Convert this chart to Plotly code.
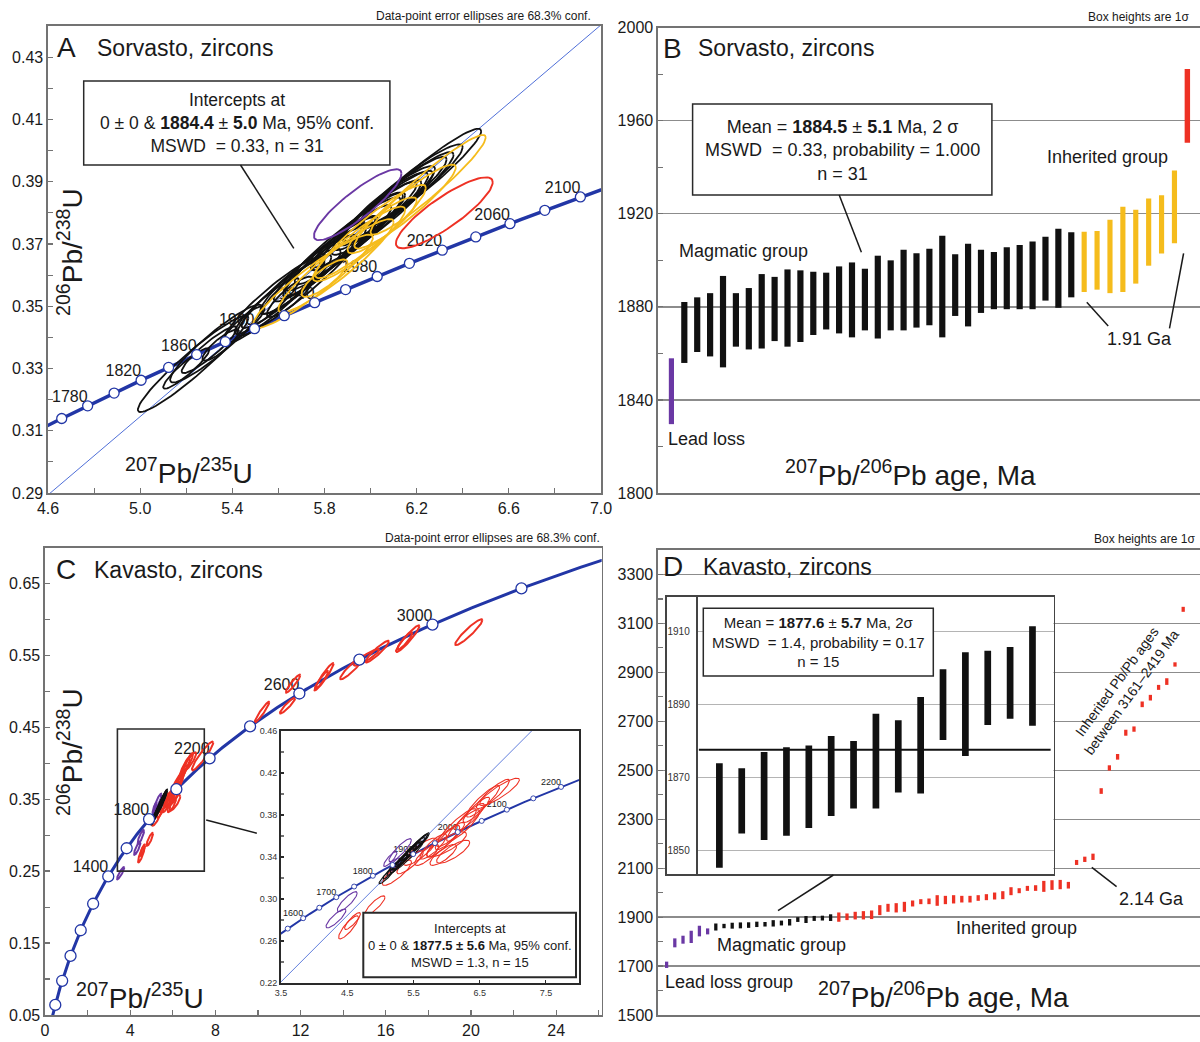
import numpy as np
import plotly.graph_objects as go

W, H = 1200, 1042
FONT = "Arial, Liberation Sans, sans-serif"
INK = "#1a1a1a"
FRAME = "#737373"
BLUE = "#2236A6"
THIN_BLUE = "#4F6FD8"
BLACK = "#111111"
YELLOW = "#F5BC1C"
RED = "#EE3124"
PURPLE = "#6A38A4"

# decay constants (1/Ma)
LAMBDA_238 = 1.55125e-4
LAMBDA_235 = 9.8485e-4

# ---------------- Panel A (Sorvasto concordia) ----------------
A_marker_ages = list(range(1760, 2121, 20))
A_label_ages = [1780, 1820, 1860, 1900, 1940, 1980, 2020, 2060, 2100]
A_intercept_age = 1884.4
# (x centre, y centre, sigma x, sigma y, rho)
A_black = [
    (5.23, 0.3315, 0.24, 0.0155, 0.95), (5.20, 0.3300, 0.10, 0.0065, 0.92),
    (5.30, 0.3360, 0.12, 0.0075, 0.92), (5.35, 0.3375, 0.08, 0.0050, 0.86),
    (5.45, 0.3440, 0.09, 0.0060, 0.88), (5.55, 0.3500, 0.14, 0.0090, 0.92),
    (5.62, 0.3540, 0.18, 0.0110, 0.93), (5.68, 0.3570, 0.15, 0.0095, 0.92),
    (5.72, 0.3600, 0.20, 0.0125, 0.93), (5.78, 0.3630, 0.16, 0.0100, 0.92),
    (5.80, 0.3650, 0.22, 0.0135, 0.94), (5.85, 0.3680, 0.18, 0.0110, 0.92),
    (5.88, 0.3700, 0.25, 0.0150, 0.94), (5.92, 0.3720, 0.17, 0.0105, 0.92),
    (5.95, 0.3745, 0.20, 0.0120, 0.93), (5.98, 0.3760, 0.24, 0.0145, 0.94),
    (6.02, 0.3790, 0.18, 0.0110, 0.92), (6.05, 0.3800, 0.22, 0.0135, 0.93),
    (6.08, 0.3830, 0.20, 0.0120, 0.92), (6.12, 0.3850, 0.24, 0.0145, 0.94),
    (6.15, 0.3870, 0.18, 0.0110, 0.92), (6.18, 0.3890, 0.22, 0.0130, 0.93),
    (6.22, 0.3910, 0.26, 0.0160, 0.95), (5.65, 0.3530, 0.10, 0.0065, 0.86),
    (5.75, 0.3610, 0.12, 0.0075, 0.86), (5.90, 0.3700, 0.12, 0.0070, 0.86),
    (6.00, 0.3780, 0.14, 0.0085, 0.88), (5.58, 0.3520, 0.22, 0.0140, 0.93),
    (6.10, 0.3840, 0.15, 0.0090, 0.88), (5.70, 0.3580, 0.28, 0.0175, 0.95),
    (5.33, 0.3380, 0.20, 0.0125, 0.93),
]
A_yellow = [
    (6.25, 0.3890, 0.25, 0.0160, 0.95), (6.15, 0.3820, 0.22, 0.0135, 0.93),
    (5.95, 0.3700, 0.20, 0.0120, 0.91), (5.85, 0.3630, 0.25, 0.0150, 0.93),
    (5.75, 0.3580, 0.26, 0.0150, 0.93), (6.05, 0.3760, 0.15, 0.0090, 0.88),
    (5.80, 0.3590, 0.10, 0.0060, 0.83), (6.00, 0.3740, 0.24, 0.0150, 0.93),
]
A_red = [(6.32, 0.3800, 0.21, 0.0114, 0.86)]
A_purple = [(5.944, 0.3826, 0.19, 0.0114, 0.88)]

# ---------------- Panel B (Sorvasto ages) ----------------
B_purple_x = [1]
B_purple_lo = [1829.6]
B_purple_hi = [1857.9]
B_black_x = list(range(2, 33))
B_black_lo = [1855.9, 1860.6, 1858.7, 1854.0, 1862.9, 1861.7, 1862.1, 1865.3, 1862.9, 1864.9,
              1867.9, 1870.3, 1868.6, 1866.9, 1869.9, 1866.4, 1869.9, 1869.9, 1871.1, 1872.1,
              1866.9, 1876.1, 1871.6, 1877.4, 1879.0, 1879.0, 1879.0, 1879.0, 1882.7, 1879.6, 1884.1]
B_black_hi = [1882.1, 1884.1, 1885.9, 1893.3, 1885.9, 1888.1, 1894.1, 1892.9, 1896.1, 1895.7,
              1895.1, 1894.7, 1897.4, 1899.1, 1896.4, 1902.0, 1900.0, 1904.6, 1903.0, 1905.0,
              1910.6, 1902.6, 1907.1, 1904.6, 1903.6, 1905.6, 1906.6, 1908.1, 1910.1, 1913.6, 1912.1]
B_yellow_x = list(range(33, 41))
B_yellow_lo = [1886.4, 1887.4, 1885.9, 1886.4, 1890.0, 1897.7, 1902.9, 1907.4]
B_yellow_hi = [1912.3, 1912.6, 1917.4, 1923.0, 1921.7, 1926.6, 1928.0, 1938.6]
B_red_x = [41]
B_red_lo = [1950.6]
B_red_hi = [1982.3]

# ---------------- Panel C (Kavasto concordia) ----------------
C_marker_ages = list(range(400, 3201, 200))
C_label_ages = [1400, 1800, 2200, 2600, 3000]
Cin_marker_ages = list(range(1550, 2201, 50))
Cin_label_ages = [1600, 1700, 1800, 1900, 2000, 2100, 2200]
C_intercept_age = 1877.5
C_zoom_box = [3.4, 7.48, 0.25, 0.4475]
C_black = [
    (5.10, 0.322, 0.12, 0.0075, 0.93), (5.18, 0.328, 0.14, 0.0090, 0.94),
    (5.25, 0.332, 0.15, 0.0095, 0.94), (5.30, 0.335, 0.12, 0.0075, 0.92),
    (5.35, 0.338, 0.16, 0.0100, 0.95), (5.40, 0.341, 0.14, 0.0090, 0.94),
    (5.42, 0.343, 0.18, 0.0110, 0.95), (5.47, 0.346, 0.15, 0.0095, 0.94),
    (5.50, 0.348, 0.17, 0.0105, 0.95), (5.55, 0.351, 0.15, 0.0095, 0.94),
    (5.58, 0.353, 0.14, 0.0090, 0.93), (5.40, 0.340, 0.25, 0.0150, 0.96),
    (5.62, 0.355, 0.12, 0.0080, 0.92), (5.32, 0.337, 0.10, 0.0065, 0.90),
    (5.45, 0.345, 0.10, 0.0065, 0.90),
]
C_purple = [
    (4.33, 0.2815, 0.15, 0.0090, 0.85), (4.50, 0.2975, 0.15, 0.0095, 0.85),
    (5.30, 0.3465, 0.17, 0.0110, 0.88), (5.15, 0.3380, 0.10, 0.0070, 0.85),
    (5.22, 0.3330, 0.08, 0.0060, 0.80),
]
C_purple_outer = [(3.55, 0.247, 0.17, 0.0085, 0.90)]
C_red = [
    (4.52, 0.273, 0.15, 0.011, 0.85), (4.58, 0.279, 0.12, 0.008, 0.85),
    (4.92, 0.294, 0.15, 0.009, 0.85), (5.25, 0.325, 0.22, 0.012, 0.85),
    (5.45, 0.335, 0.20, 0.011, 0.85), (5.60, 0.345, 0.25, 0.013, 0.85),
    (5.80, 0.350, 0.20, 0.012, 0.85), (5.95, 0.355, 0.25, 0.015, 0.88),
    (6.05, 0.360, 0.22, 0.013, 0.88), (6.15, 0.368, 0.30, 0.018, 0.90),
    (6.25, 0.370, 0.25, 0.015, 0.88), (6.35, 0.378, 0.22, 0.013, 0.88),
    (6.55, 0.393, 0.25, 0.015, 0.90), (6.70, 0.400, 0.25, 0.014, 0.90),
    (6.80, 0.402, 0.30, 0.013, 0.88), (6.45, 0.385, 0.20, 0.012, 0.88),
    (5.70, 0.342, 0.18, 0.010, 0.80), (6.00, 0.352, 0.30, 0.012, 0.80),
    (6.10, 0.345, 0.25, 0.011, 0.80), (5.95, 0.342, 0.20, 0.010, 0.80),
]
C_red_outer = [
    (7.40, 0.410, 0.50, 0.020, 0.93), (10.19, 0.471, 0.34, 0.0143, 0.95),
    (11.65, 0.5105, 0.34, 0.0125, 0.93), (11.39, 0.480, 0.36, 0.011, 0.93),
    (13.10, 0.520, 0.45, 0.019, 0.95), (13.00, 0.516, 0.30, 0.012, 0.93),
    (14.43, 0.533, 0.57, 0.0165, 0.93), (15.60, 0.555, 0.55, 0.015, 0.93),
    (15.10, 0.547, 0.60, 0.0115, 0.91), (17.03, 0.573, 0.55, 0.0185, 0.94),
    (16.90, 0.570, 0.35, 0.012, 0.91), (19.90, 0.582, 0.64, 0.018, 0.93),
]

# ---------------- Panel D (Kavasto ages) ----------------
D_purple_x = list(range(1, 7))
D_purple_lo = [1692.3, 1776.5, 1791.4, 1794.1, 1821.3, 1829.4]
D_purple_hi = [1718.1, 1813.1, 1824.0, 1844.3, 1864.7, 1853.8]
D_black_x = list(range(7, 22))
D_black_lo = [1845.2, 1854.6, 1852.8, 1854.0, 1856.1, 1859.4, 1861.5, 1861.5, 1865.9, 1865.6,
              1880.3, 1875.9, 1884.4, 1886.1, 1884.2]
D_black_hi = [1873.9, 1872.5, 1877.0, 1878.3, 1878.8, 1881.4, 1880.0, 1887.5, 1885.7, 1892.1,
              1899.7, 1904.4, 1904.8, 1905.8, 1911.5]
D_red_x = list(range(22, 65))
D_red_lo = [1881.0, 1887.8, 1890.5, 1890.5, 1891.9, 1908.1, 1921.7, 1919.0, 1921.7, 1943.4,
            1952.9, 1952.9, 1946.2, 1952.9, 1955.7, 1959.7, 1959.7, 1966.5, 1969.2, 1971.9,
            1973.3, 1989.6, 1997.7, 2007.2, 2007.2, 2003.2, 2011.3, 2014.0, 2016.7, 2113.1,
            2125.3, 2133.5, 2403.6, 2498.6, 2543.4, 2641.2, 2657.4, 2757.9, 2785.0, 2828.5,
            2848.8, 2923.5, 3147.4]
D_red_hi = [1919.0, 1914.9, 1921.7, 1924.4, 1927.1, 1948.9, 1954.3, 1957.0, 1962.4, 1967.9,
            1973.3, 1976.0, 1989.6, 1986.9, 1989.6, 1986.9, 1986.9, 1989.6, 1993.7, 2000.4,
            2005.9, 2022.2, 2018.1, 2027.6, 2030.3, 2048.0, 2050.7, 2052.0, 2043.9, 2133.5,
            2147.0, 2159.3, 2426.7, 2520.3, 2566.5, 2665.6, 2679.1, 2781.0, 2808.1, 2848.8,
            2876.0, 2941.1, 3167.8]
D_inset_x = list(range(1, 16))
D_mean = 1877.6


def concordia(t):
    t = np.asarray(t, dtype=float)
    return np.exp(LAMBDA_235 * t) - 1, np.exp(LAMBDA_238 * t) - 1


def ellipses(items, n=80):
    th = np.linspace(0, 2 * np.pi, n)
    xs, ys = [], []
    for cx, cy, sx, sy, r in items:
        xs += list(cx + sx * np.cos(th)) + [None]
        ys += list(cy + sy * (r * np.cos(th) + np.sqrt(1 - r * r) * np.sin(th))) + [None]
    return xs, ys


fig = go.Figure()


def add(trace, xa, ya):
    trace.update(xaxis=xa, yaxis=ya, showlegend=False, hoverinfo="skip")
    fig.add_trace(trace)


def concordia_traces(xa, ya, t_lo, t_hi, label_ages, lw, fsize):
    cx, cy = concordia(np.linspace(t_lo, t_hi, 400))
    add(go.Scatter(x=cx, y=cy, mode="lines", line=dict(color=BLUE, width=lw)), xa, ya)
    lx, ly = concordia(label_ages)
    add(go.Scatter(x=lx, y=ly, mode="text", text=[str(a) for a in label_ages],
                   textposition="top left", textfont=dict(size=fsize, color=INK, family=FONT)), xa, ya)


def marker_trace(xa, ya, marker_ages, msize, mlw):
    mx, my = concordia(marker_ages)
    add(go.Scatter(x=mx, y=my, mode="markers",
                   marker=dict(size=msize, color="white", line=dict(color=BLUE, width=mlw))), xa, ya)


def discordia(xa, ya, age, x0, x1, width=1):
    ix, iy = concordia([age])
    slope = iy[0] / ix[0]
    add(go.Scatter(x=[x0, x1], y=[slope * x0, slope * x1], mode="lines",
                   line=dict(color=THIN_BLUE, width=width)), xa, ya)


def ell_trace(items, color, xa, ya, width):
    ex, ey = ellipses(items)
    add(go.Scatter(x=ex, y=ey, mode="lines", line=dict(color=color, width=width)), xa, ya)


def bars(x, lo, hi, color, width, xa, ya):
    add(go.Bar(x=x, y=[h - l for l, h in zip(lo, hi)], base=lo, width=width,
               marker=dict(color=color, line=dict(width=0))), xa, ya)


# ---- A
discordia("x", "y", A_intercept_age, 4.6, 7.0)
concordia_traces("x", "y", 1700, 2150, A_label_ages, 3.5, 16)
ell_trace(A_black, BLACK, "x", "y", 1.8)
ell_trace(A_yellow, YELLOW, "x", "y", 1.8)
ell_trace(A_red, RED, "x", "y", 1.9)
ell_trace(A_purple, PURPLE, "x", "y", 1.9)
marker_trace("x", "y", A_marker_ages, 10, 1.3)

# ---- B
bars(B_purple_x, B_purple_lo, B_purple_hi, PURPLE, 0.4, "x2", "y2")
bars(B_black_x, B_black_lo, B_black_hi, BLACK, 0.48, "x2", "y2")
bars(B_yellow_x, B_yellow_lo, B_yellow_hi, YELLOW, 0.4, "x2", "y2")
bars(B_red_x, B_red_lo, B_red_hi, RED, 0.42, "x2", "y2")

# ---- C main
concordia_traces("x3", "y3", 0, 3400, C_label_ages, 3, 16)
ell_trace(C_purple + C_purple_outer, PURPLE, "x3", "y3", 2)
ell_trace(C_red + C_red_outer, RED, "x3", "y3", 2)
ell_trace(C_black, BLACK, "x3", "y3", 2)
marker_trace("x3", "y3", C_marker_ages, 11, 1.3)

# ---- C inset
discordia("x4", "y4", C_intercept_age, 3.5, 8.0, 0.9)
concordia_traces("x4", "y4", 1400, 2300, Cin_label_ages, 2, 9)
ell_trace(C_red, RED, "x4", "y4", 1.1)
ell_trace(C_purple, PURPLE, "x4", "y4", 1.1)
ell_trace(C_black, BLACK, "x4", "y4", 1.1)
marker_trace("x4", "y4", Cin_marker_ages, 5, 0.9)

# ---- D main
bars(D_purple_x, D_purple_lo, D_purple_hi, PURPLE, 0.4, "x5", "y5")
bars(D_black_x, D_black_lo, D_black_hi, BLACK, 0.4, "x5", "y5")
bars(D_red_x, D_red_lo, D_red_hi, RED, 0.4, "x5", "y5")

# ---- D inset
bars(D_inset_x, D_black_lo, D_black_hi, BLACK, 0.3, "x6", "y6")
add(go.Scatter(x=[None], y=[None], mode="lines"), "x7", "y7")


def PX(x):
    return x / W


def PY(y):
    return 1 - y / H


def frame(dom, rng, **kw):
    d = dict(domain=dom, range=rng, showline=True, linecolor=FRAME, linewidth=1.6, mirror=True,
             showgrid=False, zeroline=False, ticks="inside", ticklen=5, tickwidth=1.2,
             tickcolor=FRAME, tickfont=dict(size=16, color=INK, family=FONT), fixedrange=True,
             automargin=False)
    d.update(kw)
    return d


def minor(dt, t0, ln=5):
    return dict(dtick=dt, tick0=t0, ticks="inside", ticklen=ln, tickcolor=FRAME, tickwidth=1.1)


noticks = dict(showticklabels=False, ticks="")

layout = dict(
    template="none",
    width=W, height=H, autosize=False, margin=dict(l=0, r=0, t=0, b=0, pad=0),
    paper_bgcolor="white", plot_bgcolor="white", barmode="overlay", showlegend=False,
    font=dict(family=FONT, color=INK),
    # A
    xaxis=frame([PX(48), PX(601)], [4.6, 7.0], anchor="y", tick0=4.6, dtick=0.4,
                tickformat=".1f", minor=minor(0.2, 4.6)),
    yaxis=frame([PY(493), PY(26)], [0.29, 0.44], anchor="x", tick0=0.29, dtick=0.02,
                tickformat=".2f", minor=minor(0.01, 0.29)),
    # B
    xaxis2=frame([PX(658), 1.0], [-0.04, 41.98], anchor="y2", **noticks),
    yaxis2=frame([PY(493), PY(27.7)], [1800, 2000], anchor="x2", tick0=1800, dtick=40,
                 minor=minor(20, 1800), showgrid=True, gridcolor="#8c8c8c", gridwidth=1.3),
    # C main
    xaxis3=frame([PX(45), PX(601.7)], [0, 26.14], anchor="y3", tick0=0, dtick=4,
                 minor=minor(2, 0)),
    yaxis3=frame([PY(1015), PY(548)], [0.05, 0.699], anchor="x3", tick0=0.05, dtick=0.1,
                 tickformat=".2f", minor=minor(0.05, 0.05)),
    # C inset
    xaxis4=frame([PX(281), PX(579)], [3.5, 8.0], anchor="y4", tick0=3.5, dtick=1,
                 tickformat=".1f", linecolor="#2a2a2a", linewidth=1.8, ticklen=3,
                 tickcolor="#2a2a2a", tickfont=dict(size=9, color="#333", family=FONT)),
    yaxis4=frame([PY(983), PY(731)], [0.22, 0.46], anchor="x4", tick0=0.22, dtick=0.04,
                 tickformat=".2f", linecolor="#2a2a2a", linewidth=1.8, ticklen=3,
                 tickcolor="#2a2a2a", tickfont=dict(size=9, color="#333", family=FONT),
                 minor=minor(0.02, 0.22, 3)),
    # D main
    xaxis5=frame([PX(658), 1.0], [-0.05, 66.05], anchor="y5", **noticks),
    yaxis5=frame([PY(1015), PY(550)], [1500, 3400], anchor="x5", tick0=1500, dtick=200,
                 minor=minor(100, 1500), showgrid=True, gridcolor="#8c8c8c", gridwidth=1.3),
    # D inset plot
    xaxis6=frame([PX(696), PX(1053.5)], [-0.045, 15.94], anchor="y6", linecolor="#444",
                 linewidth=1.8, **noticks),
    yaxis6=frame([PY(874.3), PY(596.5)], [1843.4, 1919.7], anchor="x6", linecolor="#444",
                 linewidth=1.8, tick0=1850, dtick=20, showgrid=True, gridcolor="#b4b4b4",
                 gridwidth=1.1, **noticks),
    # D inset label column
    xaxis7=frame([PX(666.5), PX(696)], [0, 1], anchor="y7", linecolor="#444", linewidth=1.8,
                 **noticks),
    yaxis7=frame([PY(874.3), PY(596.5)], [1843.4, 1919.7], anchor="x7", linecolor="#444",
                 linewidth=1.8, tick0=1850, dtick=20, ticks="", ticklabelposition="inside",
                 tickfont=dict(size=10, color="#333", family=FONT)),
)
fig.update_layout(**layout)

annotations = []
shapes = []


def note(x, y, text, size=18, xanchor="center", yanchor="middle", angle=0, color=INK):
    annotations.append(dict(x=PX(x), y=PY(y), xref="paper", yref="paper", text=text,
                            showarrow=False, font=dict(size=size, color=color, family=FONT),
                            xanchor=xanchor, yanchor=yanchor, textangle=angle, align="center"))


def seg(x0, y0, x1, y1, w=1.5, c="#1a1a1a"):
    shapes.append(dict(type="line", xref="paper", yref="paper", x0=PX(x0), y0=PY(y0),
                       x1=PX(x1), y1=PY(y1), line=dict(color=c, width=w), layer="above"))


def box(x0, y0, x1, y1, w=1.5):
    shapes.append(dict(type="rect", xref="paper", yref="paper", x0=PX(x0), y0=PY(y1),
                       x1=PX(x1), y1=PY(y0), line=dict(color="#2a2a2a", width=w),
                       fillcolor="white", layer="above"))


XT_UPB = "<sup>207</sup>Pb/<sup>235</sup>U"
YT_UPB = "<sup>206</sup>Pb/<sup>238</sup>U"
XT_AGE = "<sup>207</sup>Pb/<sup>206</sup>Pb age, Ma"

# A
note(66, 48, "A", 28)
note(94.6, 48, "Sorvasto, zircons", 23, xanchor="left")
note(593.4, 15.7, "Data-point error ellipses are 68.3% conf.", 12, xanchor="right")
box(83.7, 81, 389.9, 165)
note(236.8, 123, "Intercepts at<br>0 ± 0 & <b>1884.4</b> ± <b>5.0</b> Ma, 95% conf.<br>MSWD  = 0.33, n = 31", 17.5)
seg(240.5, 165, 293.8, 248.3)
note(188.7, 471, XT_UPB, 28)
note(70, 252, YT_UPB, 28, angle=-90)

# B
note(672.7, 48.3, "B", 28)
note(696.4, 48.3, "Sorvasto, zircons", 23, xanchor="left")
note(1191.3, 17.3, "Box heights are 1σ", 12, xanchor="right")
box(692.6, 104, 991.9, 195)
note(842, 150, "Mean = <b>1884.5</b> ± <b>5.1</b> Ma, 2 σ<br>MSWD  = 0.33, probability = 1.000<br>n = 31", 18)
seg(839.2, 195, 861.4, 252.3)
note(743.1, 250.7, "Magmatic group", 18)
note(1107.8, 157.3, "Inherited group", 18)
note(1139, 339, "1.91 Ga", 18)
seg(1086.8, 302.3, 1108.2, 326)
seg(1183.6, 253.3, 1169.5, 328.3)
note(706.4, 439.3, "Lead loss", 18)
note(910.8, 472.5, XT_AGE, 28)

# C
note(66.1, 569.3, "C", 28)
note(92.2, 570, "Kavasto, zircons", 23, xanchor="left")
note(602, 538.3, "Data-point error ellipses are 68.3% conf.", 12, xanchor="right")
note(140, 996, XT_UPB, 28)
note(70, 752, YT_UPB, 28, angle=-90)
shapes.append(dict(type="rect", xref="x3", yref="y3", x0=C_zoom_box[0], x1=C_zoom_box[1],
                   y0=C_zoom_box[2], y1=C_zoom_box[3], line=dict(color="#2a2a2a", width=1.6),
                   layer="above"))
seg(206.2, 820, 256.8, 833.3)
box(363.3, 912.7, 576, 977.3, w=2)
note(469.7, 945, "Intercepts at<br>0 ± 0 & <b>1877.5 ± 5.6</b> Ma, 95% conf.<br>MSWD = 1.3, n = 15", 13)

# D
note(672.7, 566.7, "D", 28)
note(700.6, 566.7, "Kavasto, zircons", 23, xanchor="left")
note(1197, 539, "Box heights are 1σ", 12, xanchor="right")
shapes.append(dict(type="line", xref="x6 domain", yref="y6", x0=0.008, x1=0.992,
                   y0=D_mean, y1=D_mean, line=dict(color="#111", width=2)))
box(703.3, 608.3, 933.3, 676)
note(818.3, 642, "Mean = <b>1877.6</b> ± <b>5.7</b> Ma, 2σ<br>MSWD  = 1.4, probability = 0.17<br>n = 15", 15)
note(1124, 687, "Inherited Pb/Pb ages<br>between 3161–2419 Ma", 14, angle=-54)
note(1151.9, 899.3, "2.14 Ga", 18)
seg(1091.8, 867.3, 1116.6, 886.7)
seg(833.4, 875, 778, 910.7)
note(781.8, 945, "Magmatic group", 18)
note(1016.4, 928.3, "Inherited group", 18)
note(729.4, 982.3, "Lead loss group", 18)
note(943, 995, XT_AGE, 28)

fig.update_layout(annotations=annotations, shapes=shapes)
fig.write_html(
    "out.html",
    config={"displayModeBar": False, "staticPlot": True},
    post_script="document.body.style.margin='0';document.body.style.padding='0';"
                "document.body.style.overflow='hidden';",
)
